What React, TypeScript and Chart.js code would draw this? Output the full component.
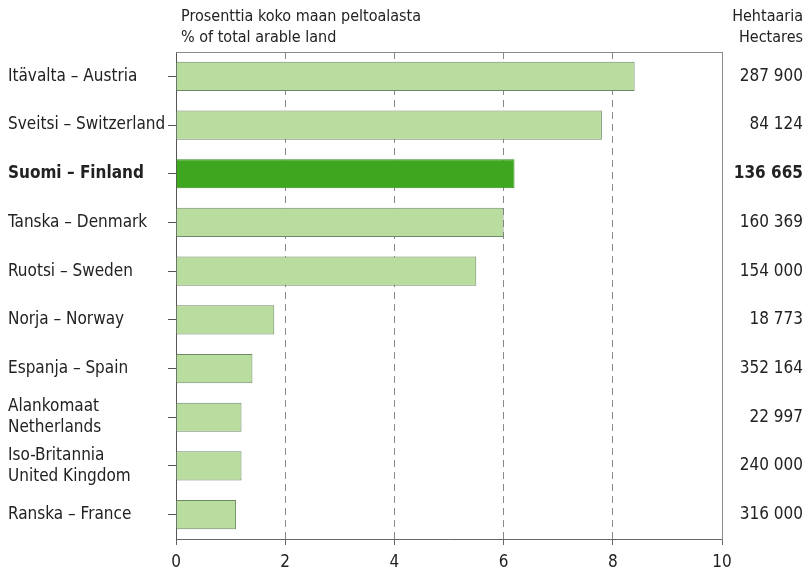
import React, { useEffect, useRef } from "react";
import { Chart, registerables } from "chart.js";

Chart.register(...registerables);

const categories: (string | string[])[] = [
  "Itävalta – Austria",
  "Sveitsi – Switzerland",
  "Suomi – Finland",
  "Tanska – Denmark",
  "Ruotsi – Sweden",
  "Norja – Norway",
  "Espanja – Spain",
  ["Alankomaat", "Netherlands"],
  ["Iso-Britannia", "United Kingdom"],
  "Ranska – France",
];
const percentValues = [8.4, 7.8, 6.2, 6.0, 5.5, 1.8, 1.4, 1.2, 1.2, 1.1];
const hectareLabels = [
  "287 900",
  "84 124",
  "136 665",
  "160 369",
  "154 000",
  "18 773",
  "352 164",
  "22 997",
  "240 000",
  "316 000",
];
const highlightIndex = 2;
const xTicks = [0, 2, 4, 6, 8, 10];
const titleLeft = ["Prosenttia koko maan peltoalasta", "% of total arable land"];
const titleRight = ["Hehtaaria", "Hectares"];

const FONT = "'Liberation Sans Narrow', 'DejaVu Sans Condensed', 'Liberation Sans', sans-serif";
const TEXT = "#222";

const headerPlugin = {
  id: "header",
  afterDraw(chart: any) {
    const { ctx, chartArea } = chart;
    ctx.save();
    // top border of the box
    ctx.strokeStyle = "#8a8a8a";
    ctx.lineWidth = 1;
    ctx.beginPath();
    ctx.moveTo(chartArea.left, chartArea.top + 0.5);
    ctx.lineTo(chartArea.right, chartArea.top + 0.5);
    ctx.stroke();
    ctx.fillStyle = TEXT;
    ctx.font = `16px ${FONT}`;
    ctx.textBaseline = "middle";
    ctx.textAlign = "left";
    ctx.fillText(titleLeft[0], 181, 17);
    ctx.fillText(titleLeft[1], 181, 38);
    ctx.textAlign = "right";
    ctx.fillText(titleRight[0], 803, 17);
    ctx.fillText(titleRight[1], 803, 38);
    ctx.restore();
  },
};

export default function App() {
  const ref = useRef<HTMLCanvasElement | null>(null);
  useEffect(() => {
    if (!ref.current) return;
    const fontFor = (ctx: any) => ({
      family: FONT,
      size: 17,
      weight: ctx.index === highlightIndex ? "bold" : "normal",
    });
    const chart = new Chart(ref.current, {
      type: "bar",
      data: {
        labels: categories as any,
        datasets: [
          {
            data: percentValues,
            backgroundColor: percentValues.map((_, i) =>
              i === highlightIndex ? "#3ea61f" : "#b9dd9e"
            ),
            borderColor: percentValues.map((_, i) =>
              i === highlightIndex ? "#2f8f19" : "#6f8866"
            ),
            borderWidth: 1,
            barPercentage: 0.6,
            categoryPercentage: 1,
          },
        ],
      },
      plugins: [headerPlugin],
      options: {
        indexAxis: "y",
        animation: false,
        responsive: true,
        maintainAspectRatio: false,
        layout: { padding: { left: 8, right: 7, top: 52, bottom: 0 } },
        plugins: { legend: { display: false }, tooltip: { enabled: false } },
        scales: {
          x: {
            type: "linear",
            min: 0,
            max: 10,
            afterBuildTicks: (scale: any) => {
              scale.ticks = xTicks.map((v) => ({ value: v }));
            },
            afterFit: (scale: any) => {
              scale.height = 34;
            },
            ticks: {
              color: TEXT,
              font: { family: FONT, size: 17 },
              padding: 7,
            },
            grid: {
              color: (ctx: any) =>
                ctx.tick && (ctx.tick.value === 0 || ctx.tick.value === 10)
                  ? "rgba(0,0,0,0)"
                  : "#8a8a8a",
              tickColor: "#666",
              tickLength: 6,
              lineWidth: 1,
            },
            border: { display: true, color: "#666", width: 1, dash: [7, 5] },
          },
          y: {
            type: "category",
            position: "left",
            afterFit: (scale: any) => {
              scale.width = 168;
            },
            ticks: {
              color: TEXT,
              font: fontFor as any,
              crossAlign: "far",
              padding: 8,
            },
            grid: {
              offset: false,
              drawOnChartArea: false,
              drawTicks: true,
              tickLength: 8,
              tickColor: "#555",
            },
            border: { display: true, color: "#555", width: 1 },
          },
          y2: {
            type: "category",
            position: "right",
            labels: hectareLabels,
            afterFit: (scale: any) => {
              scale.width = 81;
            },
            ticks: {
              color: TEXT,
              font: fontFor as any,
              crossAlign: "far",
            },
            grid: { display: false, drawOnChartArea: false, drawTicks: false },
            border: { display: true, color: "#8a8a8a", width: 1 },
          },
        },
      },
    });
    return () => chart.destroy();
  }, []);
  return (
    <div style={{ position: "fixed", left: 0, top: 0, width: 810, height: 573, background: "#fff" }}>
      <canvas ref={ref} />
    </div>
  );
}
